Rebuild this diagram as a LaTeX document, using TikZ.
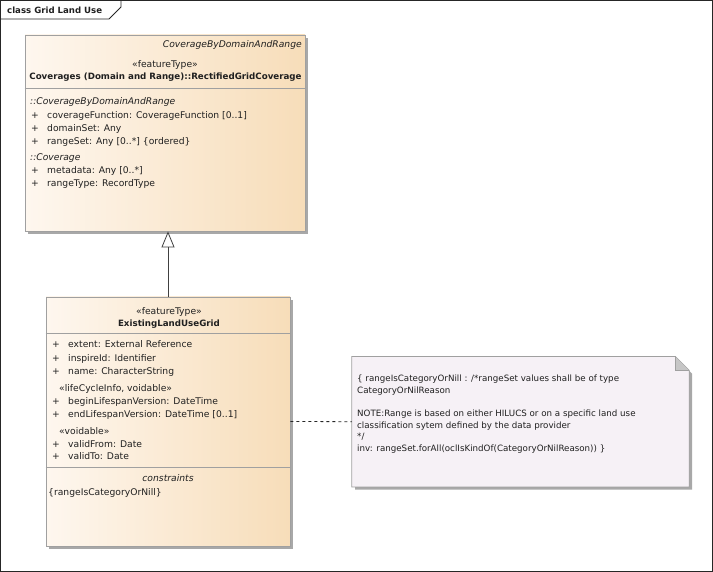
\documentclass[tikz,border=0pt]{standalone}
\usepackage{fontspec}
\setmainfont{DejaVu Sans}
\usetikzlibrary{arrows.meta}
\definecolor{clsleft}{HTML}{FEF7EF}
\definecolor{clsright}{HTML}{F7DDB9}
\definecolor{clsborder}{HTML}{A0A0A0}
\definecolor{shadowgray}{HTML}{A8A8A8}
\definecolor{notefill}{HTML}{F6F1F6}
\definecolor{txt}{HTML}{202020}
\newcommand{\fs}{\fontsize{9.2}{11}\selectfont}
\newcommand{\fb}{\bfseries\fontsize{8.7}{11}\selectfont}
\newcommand{\fn}{\fontsize{8.7}{11}\selectfont}
\tikzset{
  classbox/.style={draw=clsborder, left color=clsleft, right color=clsright, inner sep=0pt, line width=0.8pt},
  shadowbox/.style={fill=shadowgray, draw=none},
  sep/.style={draw=clsborder, line width=0.8pt},
  t/.style={anchor=base west, inner sep=0pt, font=\fs, text=txt},
  tc/.style={anchor=base, inner sep=0pt, font=\fs, text=txt},
  tr/.style={anchor=base east, inner sep=0pt, font=\fs, text=txt},
  pl/.style={anchor=base west, inner sep=0pt, font=\fn, text=txt},
}
\begin{document}
\begin{tikzpicture}[x=1pt,y=-1pt]
\useasboundingbox (0,0) rectangle (713,572);
\fill[white] (0,0) rectangle (713,572);
% frame
\draw[line width=0.8pt, black!85] (0.5,0.5) rectangle (712.5,571.5);
\draw[line width=0.8pt, black!85] (0.5,19) -- (109,19) -- (121,7) -- (121,0.5);
\node[t, font=\bfseries\fontsize{8.6}{10}\selectfont] (title) at (7,14) {class Grid Land Use};

% ---- class 1
\fill[shadowbox] (28,38) rectangle (308,234);
\node[classbox, minimum width=280pt, minimum height=196pt] (cov) at (165,133) {};
\draw[sep] (cov.west |- 0,88.5) -- (cov.east |- 0,88.5);
\node[tr, font=\itshape\fs] (c1a) at (302,47.5) {CoverageByDomainAndRange};
\node[tc] (c1st) at (165,67.5) {«featureType»};
\node[tc, font=\fb] (c1n) at (165.5,80) {Coverages (Domain and Range)::RectifiedGridCoverage};
\node[t, font=\itshape\fs] (c1g1) at (30,105) {::CoverageByDomainAndRange};
\node[t] (c1p1) at (31,118.5) {+};
\node[t] (c1r1) at (47,118.5) {coverageFunction: CoverageFunction [0..1]};
\node[t] (c1p2) at (31,131.3) {+};
\node[t] (c1r2) at (47,131.3) {domainSet: Any};
\node[t] (c1p3) at (31,144.5) {+};
\node[t] (c1r3) at (47,144.5) {rangeSet: Any [0..*] \{ordered\}};
\node[t, font=\itshape\fs] (c1g2) at (30,160.3) {::Coverage};
\node[t] (c1p4) at (31,173.5) {+};
\node[t] (c1r4) at (47,173.5) {metadata: Any [0..*]};
\node[t] (c1p5) at (31,186.3) {+};
\node[t] (c1r5) at (47,186.3) {rangeType: RecordType};

% ---- class 2
\fill[shadowbox] (49,300) rectangle (293,549);
\node[classbox, minimum width=244pt, minimum height=249pt] (elug) at (168,421.5) {};
\draw[sep] (elug.west |- 0,333.7) -- (elug.east |- 0,333.7);
\draw[sep] (elug.west |- 0,467.3) -- (elug.east |- 0,467.3);
\node[tc] (c2st) at (169,314.2) {«featureType»};
\node[tc, font=\fb] (c2n) at (169,326.8) {ExistingLandUseGrid};
\node[t] (c2p1) at (52,347.8) {+};
\node[t] (c2r1) at (68,347.8) {extent: External Reference};
\node[t] (c2p2) at (52,361.2) {+};
\node[t] (c2r2) at (68,361.2) {inspireId: Identifier};
\node[t] (c2p3) at (52,374.2) {+};
\node[t] (c2r3) at (68,374.2) {name: CharacterString};
\node[t] (c2g1) at (59,391.8) {«lifeCycleInfo, voidable»};
\node[t] (c2p4) at (52,404.2) {+};
\node[t] (c2r4) at (68,404.2) {beginLifespanVersion: DateTime};
\node[t] (c2p5) at (52,417.5) {+};
\node[t] (c2r5) at (68,417.5) {endLifespanVersion: DateTime [0..1]};
\node[t] (c2g2) at (59,434.8) {«voidable»};
\node[t] (c2p6) at (52,447.5) {+};
\node[t] (c2r6) at (68,447.5) {validFrom: Date};
\node[t] (c2p7) at (52,459.8) {+};
\node[t] (c2r7) at (68,459.8) {validTo: Date};
\node[tc, font=\itshape\fs] (c2c) at (168,481.8) {constraints};
\node[t] (c2cr) at (48,495.8) {\{rangeIsCategoryOrNill\}};

% ---- note
\fill[shadowbox] (355,359.7) -- (678,359.7) -- (692,373.7) -- (692,489.7) -- (355,489.7) -- cycle;
\node[inner sep=0pt, minimum width=337pt, minimum height=130pt] (note) at (520.5,421.7) {};
\draw[draw=clsborder, fill=notefill, line width=0.8pt] (note.north west) -- ([xshift=-14pt]note.north east) -- ([yshift=-14pt]note.north east) -- (note.south east) -- (note.south west) -- cycle;
\draw[draw=clsborder, fill=clsborder!60, line width=0.8pt] ([xshift=-14pt]note.north east) -- ([xshift=-14pt,yshift=-14pt]note.north east) -- ([yshift=-14pt]note.north east);
\node[pl] (n1) at (357,381.8) {\{ rangeIsCategoryOrNill : /*rangeSet values shall be of type};
\node[pl] (n2) at (357,393.5) {CategoryOrNilReason};
\node[pl] (n3) at (357,416.8) {NOTE:Range is based on either HILUCS or on a specific land use};
\node[pl] (n4) at (357,428.5) {classification sytem defined by the data provider};
\node[pl] (n5) at (357,439.5) {*/};
\node[pl] (n6) at (357,451.8) {inv: rangeSet.forAll(oclIsKindOf(CategoryOrNilReason)) \}};

% ---- connectors
\draw[line width=0.8pt, black!75, -{Triangle[open, length=16pt, width=13pt, fill=white]}] (elug.north) -- (elug.north |- cov.south);
\draw[line width=0.8pt, black!85, dash pattern=on 3pt off 3pt] (elug.east) -- (note.west);
\end{tikzpicture}
\end{document}
